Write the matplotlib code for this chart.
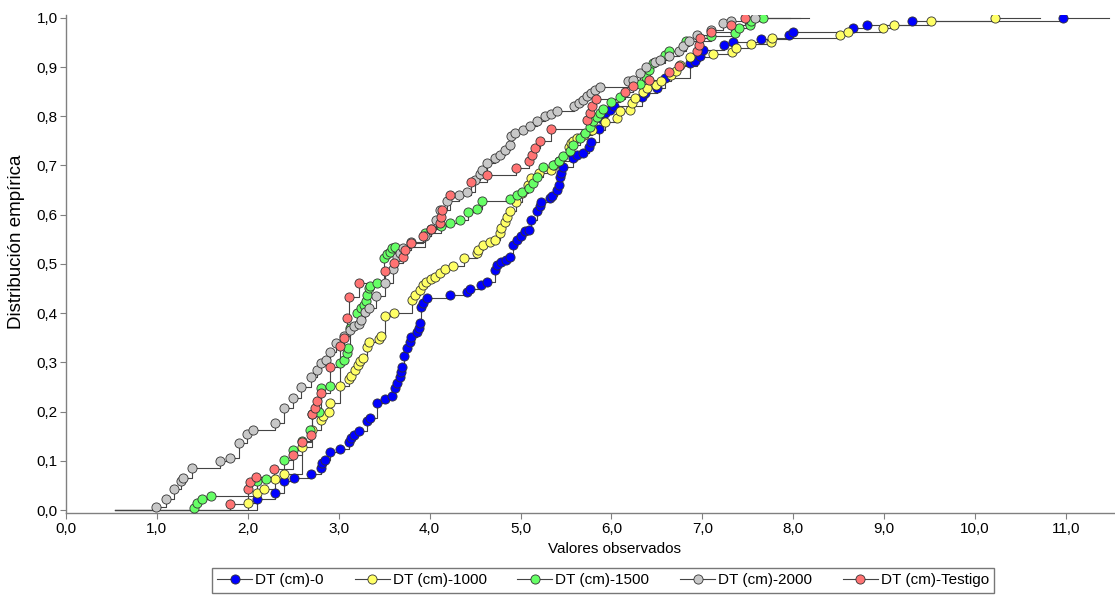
import matplotlib
matplotlib.use("Agg")
import matplotlib.pyplot as plt
from matplotlib.lines import Line2D
from matplotlib.ticker import FuncFormatter, MultipleLocator

plt.rcParams['font.family'] = ['Liberation Sans', 'DejaVu Sans']

# empirical distribution, one (x, F) list per treatment
x_0 = [2.10, 2.30, 2.40, 2.51, 2.70, 2.80, 2.82, 2.85, 2.90, 3.01, 3.11, 3.14, 3.17, 3.22, 3.31,
       3.34, 3.42, 3.51, 3.59, 3.62, 3.64, 3.67, 3.69, 3.70, 3.72, 3.75, 3.78, 3.80, 3.86, 3.88,
       3.89, 3.91, 3.93, 3.97, 4.22, 4.41, 4.44, 4.57, 4.63, 4.72, 4.74, 4.78, 4.84, 4.88, 4.92,
       4.96, 5.00, 5.05, 5.09, 5.12, 5.18, 5.21, 5.23, 5.32, 5.35, 5.40, 5.42, 5.43, 5.45, 5.47,
       5.58, 5.62, 5.69, 5.75, 5.78, 5.86, 5.90, 5.93, 5.98, 6.03, 6.34, 6.37, 6.50, 6.59, 6.86,
       6.92, 6.97, 7.01, 7.24, 7.34, 7.65, 7.95, 8.00, 8.66, 8.81, 9.31, 10.97]
y_0 = [0.022, 0.034, 0.058, 0.066, 0.073, 0.086, 0.095, 0.102, 0.117, 0.125, 0.139, 0.146, 0.152,
       0.161, 0.180, 0.186, 0.217, 0.225, 0.232, 0.247, 0.258, 0.271, 0.281, 0.291, 0.313, 0.329,
       0.342, 0.351, 0.362, 0.369, 0.379, 0.412, 0.420, 0.430, 0.437, 0.442, 0.449, 0.457, 0.464,
       0.488, 0.498, 0.503, 0.508, 0.515, 0.539, 0.549, 0.556, 0.566, 0.569, 0.589, 0.607, 0.617,
       0.625, 0.634, 0.638, 0.650, 0.661, 0.676, 0.684, 0.697, 0.715, 0.722, 0.726, 0.738, 0.747,
       0.775, 0.795, 0.807, 0.813, 0.821, 0.840, 0.847, 0.857, 0.878, 0.908, 0.913, 0.922, 0.935,
       0.945, 0.951, 0.957, 0.966, 0.972, 0.979, 0.986, 0.993, 1.0]

x_1000 = [2.00, 2.10, 2.18, 2.30, 2.40, 2.60, 2.71, 2.80, 2.83, 2.89, 2.90, 3.01, 3.11, 3.14, 3.18,
          3.21, 3.23, 3.27, 3.31, 3.33, 3.44, 3.47, 3.51, 3.61, 3.81, 3.84, 3.89, 3.93, 3.96, 4.02,
          4.06, 4.11, 4.17, 4.26, 4.38, 4.52, 4.53, 4.59, 4.66, 4.72, 4.77, 4.79, 4.83, 4.85, 4.88,
          4.95, 5.02, 5.08, 5.12, 5.20, 5.34, 5.37, 5.42, 5.53, 5.56, 5.58, 5.62, 5.70, 5.79, 5.93,
          6.06, 6.09, 6.20, 6.23, 6.26, 6.35, 6.39, 6.49, 6.55, 6.66, 6.71, 6.75, 6.87, 7.12, 7.33,
          7.37, 7.54, 7.76, 7.77, 8.51, 8.60, 8.99, 9.11, 9.52, 10.22]
y_1000 = [0.014, 0.034, 0.042, 0.064, 0.074, 0.129, 0.163, 0.183, 0.192, 0.199, 0.218, 0.253, 0.266,
          0.273, 0.285, 0.295, 0.303, 0.308, 0.332, 0.341, 0.347, 0.354, 0.394, 0.401, 0.427, 0.437,
          0.447, 0.457, 0.464, 0.469, 0.474, 0.481, 0.489, 0.496, 0.512, 0.522, 0.528, 0.539, 0.545,
          0.549, 0.563, 0.573, 0.586, 0.596, 0.608, 0.625, 0.645, 0.660, 0.674, 0.684, 0.691, 0.701,
          0.709, 0.738, 0.745, 0.749, 0.755, 0.762, 0.772, 0.789, 0.796, 0.810, 0.813, 0.827, 0.837,
          0.850, 0.857, 0.864, 0.871, 0.884, 0.891, 0.905, 0.920, 0.926, 0.931, 0.939, 0.946, 0.951,
          0.960, 0.966, 0.972, 0.980, 0.986, 0.993, 1.0]

x_1500 = [1.41, 1.44, 1.50, 1.60, 2.10, 2.20, 2.40, 2.50, 2.60, 2.68, 2.71, 2.78, 2.80, 2.90, 3.01,
          3.06, 3.09, 3.10, 3.12, 3.20, 3.25, 3.28, 3.30, 3.31, 3.33, 3.34, 3.42, 3.50, 3.53, 3.56,
          3.59, 3.62, 3.95, 4.12, 4.22, 4.33, 4.42, 4.52, 4.58, 4.88, 4.96, 5.02, 5.09, 5.14, 5.18,
          5.25, 5.36, 5.42, 5.47, 5.54, 5.58, 5.65, 5.71, 5.76, 5.80, 5.84, 5.87, 5.91, 5.99, 6.09,
          6.31, 6.38, 6.41, 6.46, 6.59, 6.63, 6.82, 7.10, 7.36, 7.40, 7.52, 7.54, 7.67]
y_1500 = [0.005, 0.014, 0.022, 0.029, 0.059, 0.063, 0.101, 0.122, 0.140, 0.163, 0.195, 0.199, 0.248,
          0.251, 0.298, 0.305, 0.319, 0.329, 0.369, 0.400, 0.410, 0.417, 0.425, 0.437, 0.451, 0.455,
          0.462, 0.513, 0.520, 0.525, 0.532, 0.535, 0.563, 0.578, 0.583, 0.589, 0.605, 0.612, 0.627,
          0.632, 0.640, 0.647, 0.654, 0.664, 0.677, 0.697, 0.701, 0.710, 0.720, 0.730, 0.742, 0.756,
          0.767, 0.779, 0.790, 0.799, 0.807, 0.815, 0.829, 0.839, 0.866, 0.880, 0.894, 0.908, 0.925,
          0.932, 0.953, 0.963, 0.969, 0.979, 0.986, 0.993, 1.0]

x_2000 = [0.99, 1.10, 1.19, 1.27, 1.29, 1.39, 1.69, 1.80, 1.90, 1.99, 2.06, 2.30, 2.40, 2.50, 2.59,
          2.69, 2.76, 2.80, 2.86, 2.90, 2.97, 3.06, 3.12, 3.17, 3.22, 3.25, 3.29, 3.33, 3.41, 3.51,
          3.60, 3.64, 3.67, 3.71, 3.80, 3.95, 4.02, 4.07, 4.11, 4.19, 4.32, 4.41, 4.50, 4.55, 4.58,
          4.63, 4.72, 4.77, 4.83, 4.88, 4.90, 4.94, 5.03, 5.10, 5.18, 5.27, 5.33, 5.40, 5.59, 5.64,
          5.69, 5.73, 5.78, 5.82, 5.87, 6.18, 6.24, 6.31, 6.38, 6.48, 6.53, 6.63, 6.74, 6.79, 6.85,
          6.94, 7.10, 7.23, 7.32, 7.58]
y_2000 = [0.007, 0.022, 0.043, 0.059, 0.066, 0.085, 0.100, 0.106, 0.136, 0.155, 0.162, 0.177, 0.207,
          0.228, 0.250, 0.271, 0.285, 0.298, 0.305, 0.322, 0.339, 0.354, 0.366, 0.373, 0.378, 0.386,
          0.403, 0.410, 0.434, 0.462, 0.490, 0.515, 0.522, 0.532, 0.545, 0.556, 0.570, 0.589, 0.609,
          0.627, 0.640, 0.647, 0.671, 0.683, 0.690, 0.705, 0.715, 0.722, 0.732, 0.742, 0.759, 0.766,
          0.772, 0.780, 0.790, 0.800, 0.805, 0.810, 0.820, 0.827, 0.833, 0.841, 0.847, 0.854, 0.860,
          0.871, 0.874, 0.888, 0.900, 0.911, 0.915, 0.922, 0.932, 0.942, 0.953, 0.966, 0.976, 0.990,
          0.993, 1.0]

x_test = [1.80, 2.00, 2.02, 2.09, 2.29, 2.50, 2.60, 2.70, 2.71, 2.74, 2.76, 2.80, 2.90, 3.01, 3.06,
          3.09, 3.11, 3.22, 3.51, 3.61, 3.71, 3.73, 3.79, 3.93, 4.01, 4.11, 4.13, 4.14, 4.22, 4.45,
          4.63, 4.95, 5.09, 5.13, 5.16, 5.21, 5.34, 5.73, 5.76, 5.79, 5.83, 6.15, 6.24, 6.41, 6.63,
          6.74, 6.94, 6.96, 6.98, 7.10, 7.32, 7.47]
y_test = [0.012, 0.043, 0.056, 0.068, 0.083, 0.111, 0.139, 0.152, 0.195, 0.207, 0.222, 0.237, 0.291,
          0.333, 0.349, 0.390, 0.432, 0.461, 0.486, 0.501, 0.515, 0.528, 0.542, 0.556, 0.571, 0.583,
          0.595, 0.610, 0.640, 0.667, 0.681, 0.695, 0.709, 0.722, 0.735, 0.749, 0.775, 0.793, 0.807,
          0.820, 0.835, 0.849, 0.861, 0.874, 0.889, 0.903, 0.932, 0.945, 0.959, 0.972, 0.986, 1.0]

labels = ["DT (cm)-0", "DT (cm)-1000", "DT (cm)-1500", "DT (cm)-2000", "DT (cm)-Testigo"]
colors = ["#0000ff", "#ffff66", "#66ff66", "#c8c8c8", "#ff7373"]
series = [(x_0, y_0), (x_1000, y_1000), (x_1500, y_1500), (x_2000, y_2000), (x_test, y_test)]

fig = plt.figure(figsize=(11.15, 5.95), dpi=100)
ax = fig.add_axes([0.0592, 0.137, 0.9408, 0.838])

x_start = min(min(s[0]) for s in series) - 0.45
line_col = "#444444"
for (xs, ys), c in zip(series, colors):
    # step line of the empirical CDF
    sx = [x_start] + xs + [xs[-1] + 0.5]
    sy = [0.0] + ys + [ys[-1]]
    ax.step(sx, sy, where='post', color=line_col, lw=0.8, zorder=2)
for (xs, ys), c in zip(series, colors):
    ax.plot(xs, ys, ls='none', marker='o', ms=6.6, mfc=c, mec="#333333", mew=0.6, zorder=3)

ax.set_xlim(0, 11.54)
ax.set_ylim(-0.007, 1.006)
ax.xaxis.set_major_locator(MultipleLocator(1))
ax.yaxis.set_major_locator(MultipleLocator(0.1))
fmt = FuncFormatter(lambda v, _: f"{v:.1f}".replace('.', ','))
ax.xaxis.set_major_formatter(fmt)
ax.yaxis.set_major_formatter(fmt)
for s in ['top', 'right']:
    ax.spines[s].set_visible(False)
for s in ['left', 'bottom']:
    ax.spines[s].set_color("#808080")
    ax.spines[s].set_linewidth(1.0)
ax.tick_params(length=4, width=0.8, color="#808080", labelsize=11, pad=2)

ax.set_xlabel("Valores observados", fontsize=11)
ax.set_ylabel("Distribución empírica", fontsize=13.5)
ax.xaxis.set_label_coords(0.523, -0.058)
ax.yaxis.set_label_coords(-0.039, 0.544)

handles = [Line2D([], [], color=line_col, lw=0.8, marker='o', ms=6.6, mfc=c, mec="#333333", mew=0.6)
           for c in colors]
leg = fig.legend(handles, labels, loc='upper center', bbox_to_anchor=(0.541, 0.0454), ncol=5,
                 fontsize=11, frameon=True, fancybox=False, edgecolor="#555555",
                 handlelength=2.3, handletextpad=0.2, columnspacing=2.0, borderpad=0.35,
                 borderaxespad=0)
leg.get_frame().set_linewidth(1.0)

fig.savefig("out.png", dpi=100)
